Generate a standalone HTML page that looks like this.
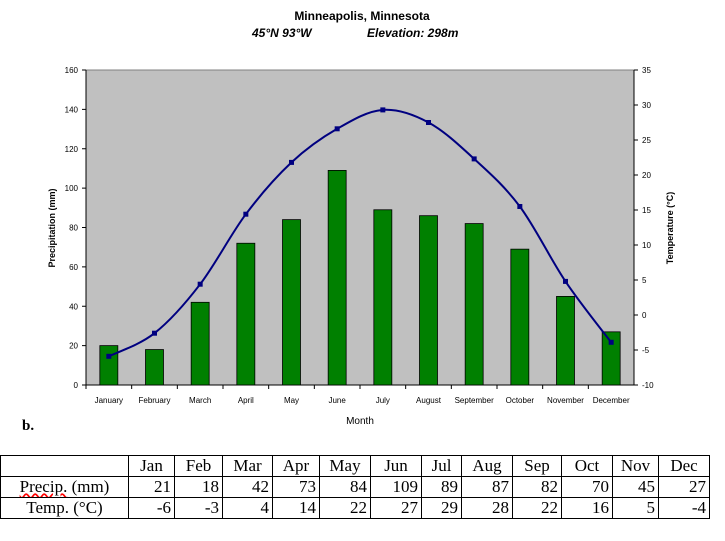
<!DOCTYPE html>
<html><head><meta charset="utf-8"><style>
body{margin:0;width:725px;height:541px;background:#fff;overflow:hidden;position:relative}
svg{position:absolute;left:0;top:0}
table{position:absolute;left:0;top:455px;border-collapse:collapse;font-family:"Liberation Serif",serif;font-size:17px;width:709px;table-layout:fixed}
td{border:1.5px solid #000;height:20px;padding:0 3px;text-align:right;line-height:20px;overflow:hidden;white-space:nowrap}
td.h{text-align:center}
</style></head><body>
<svg width="725" height="455" id="c" font-family="Liberation Sans, sans-serif"></svg>
<table>
<colgroup><col style="width:128px"><col style="width:46px"><col style="width:48px"><col style="width:50px"><col style="width:47px"><col style="width:51px"><col style="width:51px"><col style="width:40px"><col style="width:51px"><col style="width:49px"><col style="width:51px"><col style="width:46px"><col style="width:51px"></colgroup>
<tr><td></td><td class="h">Jan</td><td class="h">Feb</td><td class="h">Mar</td><td class="h">Apr</td><td class="h">May</td><td class="h">Jun</td><td class="h">Jul</td><td class="h">Aug</td><td class="h">Sep</td><td class="h">Oct</td><td class="h">Nov</td><td class="h">Dec</td></tr>
<tr><td class="h"><span style="text-decoration:underline wavy red">Precip.</span> (mm)</td><td>21</td><td>18</td><td>42</td><td>73</td><td>84</td><td>109</td><td>89</td><td>87</td><td>82</td><td>70</td><td>45</td><td>27</td></tr>
<tr><td class="h">Temp. (°C)</td><td>-6</td><td>-3</td><td>4</td><td>14</td><td>22</td><td>27</td><td>29</td><td>28</td><td>22</td><td>16</td><td>5</td><td>-4</td></tr>
</table>
<script>
const months=["January","February","March","April","May","June","July","August","September","October","November","December"];
const precip=[20,18,42,72,84,109,89,86,82,69,45,27];
const temp=[-5.9,-2.6,4.4,14.4,21.8,26.6,29.3,27.5,22.3,15.5,4.8,-3.9];
const leftTicks=[0,20,40,60,80,100,120,140,160];
const rightTicks=[-10,-5,0,5,10,15,20,25,30,35];
const L=86,R=634,T=70,B=385,NS="http://www.w3.org/2000/svg";
const svg=document.getElementById('c');
const cw=(R-L)/months.length;
const xc=i=>L+cw*(i+0.5);
const yP=v=>B-(v/160)*(B-T);
const yT=v=>B-((v+10)/45)*(B-T);
function el(t,a,txt){const e=document.createElementNS(NS,t);for(const k in a)e.setAttribute(k,a[k]);if(txt!=null)e.textContent=txt;svg.appendChild(e);return e;}
let e;
e=el('text',{x:362,y:20,'text-anchor':'middle','font-size':12,'font-weight':'bold'},'Minneapolis, Minnesota');


e=el('text',{x:252,y:37,'font-size':12,'font-weight':'bold','font-style':'italic'},'45°N 93°W');


e=el('text',{x:367,y:37,'font-size':12,'font-weight':'bold','font-style':'italic'},'Elevation: 298m');


e=el('rect',{x:L,y:T,width:R-L,height:B-T,fill:'#c0c0c0'});


el('line',{x1:L,y1:T,x2:R,y2:T,stroke:'#808080'});
el('line',{x1:L,y1:T,x2:L,y2:B,stroke:'#000'});
el('line',{x1:R,y1:T,x2:R,y2:B,stroke:'#000'});
el('line',{x1:L,y1:B,x2:R,y2:B,stroke:'#000'});
leftTicks.forEach(v=>{el('line',{x1:L-4,x2:L,y1:yP(v),y2:yP(v),stroke:'#000'});
 e=el('text',{x:L-8,y:yP(v)+3,'text-anchor':'end','font-size':8},v);
 
 });
rightTicks.forEach(v=>{el('line',{x1:R,x2:R+4,y1:yT(v),y2:yT(v),stroke:'#000'});
 e=el('text',{x:R+8,y:yT(v)+3,'font-size':8},v);
 
 });
months.forEach((m,i)=>{el('line',{x1:L+cw*i,x2:L+cw*i,y1:B,y2:B+4,stroke:'#000'});
 e=el('rect',{x:xc(i)-9,y:yP(precip[i]),width:18,height:B-yP(precip[i]),fill:'#008000',stroke:'#000','stroke-width':0.8});
 
 
 e=el('text',{x:xc(i),y:403,'text-anchor':'middle','font-size':8},m);
 
 });
const pts=temp.map((v,i)=>[xc(i),yT(v)]);
let d='M'+pts[0];
for(let i=0;i<pts.length-1;i++){const p0=pts[Math.max(0,i-1)],p1=pts[i],p2=pts[i+1],p3=pts[Math.min(pts.length-1,i+2)];
 d+=' C'+(p1[0]+(p2[0]-p0[0])/6)+','+(p1[1]+(p2[1]-p0[1])/6)+' '+(p2[0]-(p3[0]-p1[0])/6)+','+(p2[1]-(p3[1]-p1[1])/6)+' '+p2;}
e=el('path',{d:d,fill:'none',stroke:'#000080','stroke-width':2});


pts.forEach(p=>{e=el('rect',{x:p[0]-2.5,y:p[1]-2.5,width:5,height:5,fill:'#000080'});
 
 });
e=el('text',{x:360,y:424,'text-anchor':'middle','font-size':10},'Month');


e=el('text',{x:0,y:0,'text-anchor':'middle','font-size':9,'font-weight':'bold',transform:'translate(55,228) rotate(-90)'},'Precipitation (mm)');


e=el('text',{x:0,y:0,'text-anchor':'middle','font-size':9,'font-weight':'bold',transform:'translate(673,228) rotate(-90)'},'Temperature (°C)');


e=el('text',{x:22,y:430,'font-size':15,'font-weight':'bold','font-family':'Liberation Serif, serif'},'b.');


</script>
</body></html>
